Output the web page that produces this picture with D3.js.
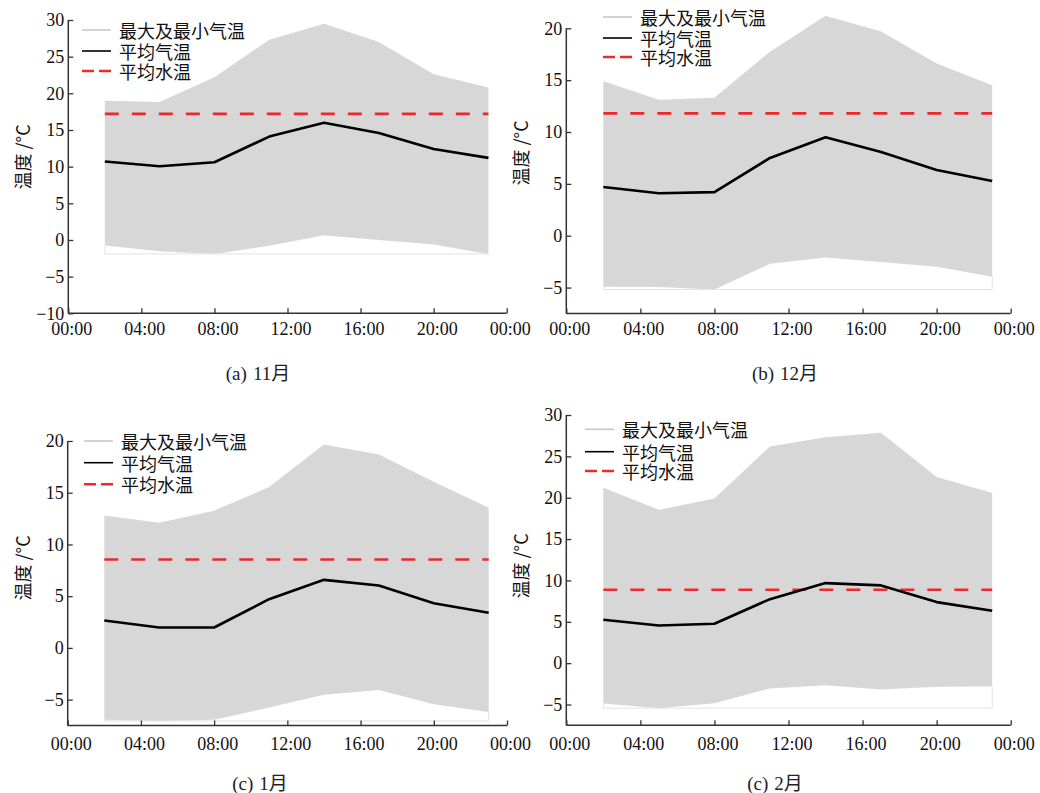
<!DOCTYPE html>
<html><head><meta charset="utf-8">
<script src="https://cdn.jsdelivr.net/npm/d3@7"></script>
<style>body{margin:0;background:#fff}svg{display:block}
.serif{font-family:"Liberation Serif","Times New Roman",Tinos,"DejaVu Serif",serif}
.cjk{font-family:"Noto Sans CJK SC","Noto Sans CJK JP",sans-serif}
.cap{font-family:"Liberation Serif","Times New Roman",Tinos,"Noto Sans CJK SC",serif}
</style>
</head><body><svg id="c" width="1040" height="793"></svg>
<script>
// ---------- data ----------
const hours = [2, 5, 8, 11, 14, 17, 20, 23];
const xTickHours = [0, 4, 8, 12, 16, 20, 24];
const xTickLabels = ["00:00", "04:00", "08:00", "12:00", "16:00", "20:00", "00:00"];
const legendLabels = ["最大及最小气温", "平均气温", "平均水温"];
const yAxisTitle = "温度 /°C";
const captionTags = ["(a)", "(b)", "(c)", "(c)"];
const captionMonths = ["11月", "12月", "1月", "2月"];

const novMax  = [19.0, 18.8, 22.2, 27.3, 29.5, 27.0, 22.6, 20.8];
const novMean = [10.7, 10.05, 10.6, 14.1, 16.0, 14.6, 12.4, 11.2];
const novMin  = [-0.77, -1.55, -1.9, -0.8, 0.64, 0.0, -0.6, -1.9];
const novWater = 17.2;
const novYTicks = [-10, -5, 0, 5, 10, 15, 20, 25, 30];

const decMax  = [14.9, 13.1, 13.3, 17.75, 21.2, 19.7, 16.6, 14.5];
const decMean = [4.7, 4.1, 4.2, 7.5, 9.5, 8.07, 6.33, 5.27];
const decMin  = [-4.92, -4.95, -5.18, -2.7, -2.09, -2.54, -2.99, -3.95];
const decWater = 11.8;
const decYTicks = [-5, 0, 5, 10, 15, 20];

const janMax  = [12.8, 12.1, 13.26, 15.55, 19.65, 18.7, 16.06, 13.55];
const janMean = [2.65, 1.97, 1.97, 4.71, 6.58, 6.03, 4.32, 3.39];
const janMin  = [-6.94, -7.06, -6.94, -5.77, -4.52, -4.06, -5.45, -6.19];
const janWater = 8.55;
const janYTicks = [-5, 0, 5, 10, 15, 20];

const febMax  = [21.2, 18.55, 19.9, 26.2, 27.3, 27.86, 22.5, 20.56];
const febMean = [5.24, 4.56, 4.76, 7.74, 9.68, 9.4, 7.38, 6.33];
const febMin  = [-4.88, -5.44, -4.84, -3.06, -2.66, -3.19, -2.86, -2.82];
const febWater = 8.87;
const febYTicks = [-5, 0, 5, 10, 15, 20, 25, 30];

// ---------- layout ----------
const panels = [
  {max: novMax, mean: novMean, min: novMin, water: novWater, ticks: novYTicks, tag: captionTags[0], month: captionMonths[0],
   yDomain: [-10, 30], x0: 68.3, x1: 506.7, yTop: 20, yBot: 313.3, titleX: 21.5, titleY: 157,
   labelDy: 15, legX: 82, legY: [30, 51, 71], capX: 258, capY: 373},
  {max: decMax, mean: decMean, min: decMin, water: decWater, ticks: decYTicks, tag: captionTags[1], month: captionMonths[1],
   yDomain: [-7.5, 20], x0: 566.3, x1: 1010.7, yTop: 28.3, yBot: 313.5, titleX: 519.5, titleY: 153,
   labelDy: 15, legX: 603, legY: [17, 38, 57], capX: 785, capY: 373},
  {max: janMax, mean: janMean, min: janMin, water: janWater, ticks: janYTicks, tag: captionTags[2], month: captionMonths[2],
   yDomain: [-7.5, 20], x0: 67.7, x1: 507, yTop: 441, yBot: 725.5, titleX: 21.5, titleY: 568,
   labelDy: 18.5, legX: 84, legY: [441, 462.7, 484.3], capX: 260, capY: 782.7},
  {max: febMax, mean: febMean, min: febMin, water: febWater, ticks: febYTicks, tag: captionTags[3], month: captionMonths[3],
   yDomain: [-7.5, 30], x0: 566.3, x1: 1010.7, yTop: 415, yBot: 725.2, titleX: 519.5, titleY: 566,
   labelDy: 19, legX: 585, legY: [429.3, 451.7, 471], capX: 775, capY: 782.7}
];

const svg = d3.select("#c");
const axisColor = "#333";
const fillColor = "#d7d7d7";
const redColor = "#ec2a2e";

panels.forEach(p => {
  const g = svg.append("g");
  const x = d3.scaleLinear().domain([0, 24]).range([p.x0, p.x1]);
  const y = d3.scaleLinear().domain(p.yDomain).range([p.yBot, p.yTop]);
  const pts = hours.map((h, i) => ({h, max: p.max[i], mean: p.mean[i], min: p.min[i]}));

  // shaded band
  g.append("path").datum(pts)
    .attr("d", d3.area().x(d => x(d.h)).y0(d => y(d.min)).y1(d => y(d.max)))
    .attr("fill", fillColor);
  // faint outline at lowest minimum
  const lo = d3.min(p.min);
  const first = pts[0], last = pts[pts.length - 1];
  g.append("path")
    .attr("d", d3.line()([[x(first.h), y(first.min)], [x(first.h), y(lo)], [x(last.h), y(lo)], [x(last.h), y(last.min)]]))
    .attr("fill", "none").attr("stroke", "#e2e2e2").attr("stroke-width", 1);

  // water temperature
  g.append("line")
    .attr("x1", x(hours[0])).attr("x2", x(hours[hours.length - 1]))
    .attr("y1", y(p.water)).attr("y2", y(p.water))
    .attr("stroke", redColor).attr("stroke-width", 2.6).attr("stroke-dasharray", "14,13");

  // mean air temperature
  g.append("path").datum(pts)
    .attr("d", d3.line().x(d => x(d.h)).y(d => y(d.mean)))
    .attr("fill", "none").attr("stroke", "#000").attr("stroke-width", 2.6).attr("stroke-linejoin", "round");

  // y axis
  const ya = g.append("g").attr("transform", `translate(${p.x0},0)`)
    .call(d3.axisLeft(y).tickValues(p.ticks).tickSize(-5).tickPadding(4).tickFormat(d3.format("d")));
  ya.attr("font-family", null).attr("font-size", null);
  ya.select(".domain").attr("d", `M0,${p.yTop}V${p.yBot}`).attr("stroke", axisColor).attr("stroke-width", 1.5);
  ya.selectAll(".tick line").attr("stroke", axisColor).attr("stroke-width", 1.3);
  ya.selectAll(".tick text").attr("class", "serif").style("font-size", "18px").attr("fill", "#111").attr("x", -4);

  // x axis
  const xa = g.append("g").attr("transform", `translate(0,${p.yBot})`)
    .call(d3.axisBottom(x).tickValues(xTickHours).tickSize(-5).tickFormat((d, i) => xTickLabels[i]));
  xa.attr("font-family", null).attr("font-size", null);
  xa.select(".domain").attr("d", `M${p.x0},0H${p.x1}`).attr("stroke", axisColor).attr("stroke-width", 1.5);
  xa.selectAll(".tick line").attr("stroke", axisColor).attr("stroke-width", 1.3);
  xa.selectAll(".tick text").attr("class", "serif").style("font-size", "18px").attr("fill", "#111")
    .attr("y", p.labelDy).attr("dy", "0.35em").attr("dx", 3);

  // y title
  g.append("text").attr("class", "cjk")
    .attr("transform", `translate(${p.titleX},${p.titleY}) rotate(-90)`)
    .attr("text-anchor", "middle").attr("dominant-baseline", "central")
    .style("font-size", "18px").attr("fill", "#111")
    .text(yAxisTitle);

  // legend
  const styles = [
    {stroke: "#c4c4c4", w: 1.5, dash: null},
    {stroke: "#000", w: 1.6, dash: null},
    {stroke: redColor, w: 2.6, dash: "12,5"}
  ];
  legendLabels.forEach((lab, i) => {
    const ly = p.legY[i];
    g.append("line").attr("x1", p.legX).attr("x2", p.legX + 29).attr("y1", ly).attr("y2", ly)
      .attr("stroke", styles[i].stroke).attr("stroke-width", styles[i].w)
      .attr("stroke-dasharray", styles[i].dash);
    g.append("text").attr("class", "cjk").attr("x", p.legX + 37).attr("y", ly).attr("dominant-baseline", "central")
      .style("font-size", "18px").attr("fill", "#111").text(lab);
  });

  // caption
  const cap = g.append("text").attr("class", "cap").attr("x", p.capX).attr("y", p.capY)
    .attr("text-anchor", "middle").attr("dominant-baseline", "central")
    .style("font-size", "19px").attr("fill", "#222");
  cap.append("tspan").text(p.tag);
  cap.append("tspan").attr("dx", 6).text(p.month);
});
</script></body></html>
